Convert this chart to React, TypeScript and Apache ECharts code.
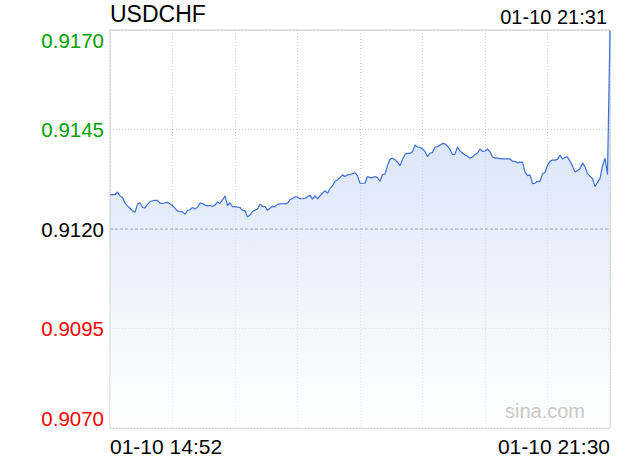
import React, { useEffect, useRef } from "react";
import * as echarts from "echarts";

const symbolName = "USDCHF";
const lastTime = "01-10 21:31";
const xStartLabel = "01-10 14:52";
const xEndLabel = "01-10 21:30";
const prevClose = 0.912;
const yMin = 0.907;
const yMax = 0.917;
const yStep = 0.0025;

// one price per equal time step, from 14:52 to 21:31
const prices: number[] = [
  0.91286, 0.91287, 0.91286, 0.91293, 0.91283, 0.91279, 0.91265, 0.91258, 0.91252, 0.91246,
  0.91242, 0.91262, 0.91266, 0.91254, 0.91253, 0.91262, 0.91269, 0.91271, 0.91272, 0.91272,
  0.91265, 0.91264, 0.91266, 0.91267, 0.91263, 0.91259, 0.91252, 0.91245, 0.91244, 0.91243,
  0.91237, 0.91246, 0.91249, 0.91254, 0.9125, 0.91255, 0.91265, 0.91264, 0.9126, 0.91258,
  0.91259, 0.91257, 0.9126, 0.91268, 0.91264, 0.91273, 0.91283, 0.91259, 0.91266, 0.91256,
  0.91256, 0.91255, 0.91254, 0.91247, 0.91246, 0.9123, 0.91235, 0.91244, 0.91247, 0.91251,
  0.91262, 0.91257, 0.91256, 0.91247, 0.91252, 0.91257, 0.91256, 0.91262, 0.91263, 0.91264,
  0.91263, 0.91265, 0.91274, 0.91276, 0.91281, 0.9128, 0.91276, 0.91276, 0.91277, 0.91281,
  0.91285, 0.91275, 0.91283, 0.91276, 0.91283, 0.9129, 0.91296, 0.9129, 0.91302, 0.91309,
  0.9132, 0.91323, 0.91329, 0.91336, 0.91332, 0.91336, 0.91337, 0.91339, 0.91341, 0.91334,
  0.91315, 0.91315, 0.91315, 0.91332, 0.91329, 0.91329, 0.91332, 0.91329, 0.9132, 0.91337,
  0.91338, 0.9136, 0.91375, 0.91378, 0.91374, 0.91368, 0.91359, 0.91375, 0.91388, 0.9139,
  0.9139, 0.91394, 0.91411, 0.91406, 0.91405, 0.91401, 0.91395, 0.91382, 0.91391, 0.91392,
  0.91406, 0.91406, 0.91411, 0.91415, 0.91414, 0.91408, 0.914, 0.91387, 0.91388, 0.91406,
  0.91396, 0.91391, 0.91386, 0.91383, 0.91378, 0.91381, 0.91387, 0.91391, 0.91401, 0.91395,
  0.91396, 0.91401, 0.91394, 0.91381, 0.91378, 0.91378, 0.91377, 0.91376, 0.91376, 0.91376,
  0.91376, 0.9137, 0.9137, 0.91366, 0.91368, 0.91368, 0.91343, 0.91334, 0.91336, 0.91314,
  0.91315, 0.9132, 0.91319, 0.91339, 0.91342, 0.9136, 0.9137, 0.91373, 0.91373, 0.91375,
  0.91386, 0.91376, 0.9138, 0.91381, 0.9137, 0.91358, 0.91343, 0.91347, 0.91352, 0.91366,
  0.91356, 0.91339, 0.91333, 0.91327, 0.91307, 0.91317, 0.91327, 0.91358, 0.91378, 0.91337,
  0.91699,
];

const FONT = "'Liberation Sans', Arial, Helvetica, sans-serif";

export default function App() {
  const ref = useRef<HTMLDivElement>(null);

  useEffect(() => {
    if (!ref.current) return;
    const chart = echarts.init(ref.current, undefined, { renderer: "svg" });
    const lastIndex = prices.length - 1;
    const near = (a: number, b: number) => Math.abs(a - b) < 1e-7;

    chart.setOption({
      animation: false,
      backgroundColor: "#ffffff",
      textStyle: { fontFamily: FONT },
      title: [
        {
          text: symbolName,
          left: 110,
          top: 2,
          padding: 0,
          textStyle: { fontSize: 23, fontWeight: "normal", color: "#000", fontFamily: FONT },
        },
        {
          text: lastTime,
          right: 13,
          top: 7,
          padding: 0,
          textStyle: { fontSize: 20, fontWeight: "normal", color: "#000", fontFamily: FONT },
        },
      ],
      graphic: [
        {
          type: "text",
          right: 35,
          top: 401,
          silent: true,
          z: 100,
          style: { text: "sina.com", fill: "#c8c8c8", font: `20px ${FONT}` },
        },
      ],
      grid: {
        left: 110,
        top: 30,
        right: 10,
        bottom: 32,
        show: true,
        borderColor: "#cccccc",
        borderWidth: 1,
        backgroundColor: "transparent",
      },
      xAxis: [
        {
          type: "value",
          min: 0,
          max: lastIndex,
          interval: lastIndex / 8,
          axisLine: { show: false },
          axisTick: { show: false },
          splitLine: { show: true, lineStyle: { color: "#cccccc", type: [1, 2], width: 1 } },
          axisLabel: {
            margin: 8,
            align: "left",
            fontSize: 21,
            color: "#000",
            fontFamily: FONT,
            formatter: (v: number) => (near(v, 0) ? xStartLabel : ""),
          },
        },
        {
          type: "value",
          position: "bottom",
          min: 0,
          max: lastIndex,
          interval: lastIndex / 8,
          axisLine: { show: false },
          axisTick: { show: false },
          splitLine: { show: false },
          axisLabel: {
            margin: 8,
            align: "right",
            fontSize: 21,
            color: "#000",
            fontFamily: FONT,
            formatter: (v: number) => (near(v, lastIndex) ? xEndLabel : ""),
          },
        },
      ],
      yAxis: {
        type: "value",
        min: yMin,
        max: yMax,
        interval: yStep,
        axisLine: { show: false },
        axisTick: { show: false },
        splitLine: { show: true, lineStyle: { color: "#cccccc", type: [1, 2], width: 1 } },
        axisLabel: {
          margin: 6,
          fontSize: 20.5,
          lineHeight: 20,
          fontFamily: FONT,
          color: (v: any) => {
            const n = Number(v);
            if (n > prevClose + 1e-7) return "#00a000";
            if (n < prevClose - 1e-7) return "#ff0000";
            return "#000000";
          },
          formatter: (v: number) => {
            const s = Number(v).toFixed(4);
            if (near(v, yMax)) return "\n" + s;
            if (near(v, yMin)) return s + "\n";
            return s;
          },
        },
      },
      series: [
        {
          name: symbolName,
          type: "line",
          xAxisIndex: 0,
          data: prices.map((p, i) => [i, p]),
          showSymbol: false,
          symbol: "none",
          smooth: false,
          z: 2,
          lineStyle: { color: "#3c70d8", width: 1.2 },
          areaStyle: {
            origin: "start",
            color: new echarts.graphic.LinearGradient(0, 0, 0, 1, [
              { offset: 0, color: "#aec6f2" },
              { offset: 1, color: "#ffffff" },
            ]),
            opacity: 0.6,
          },
        },
        {
          name: "prev",
          type: "line",
          xAxisIndex: 0,
          data: [
            [0, prevClose],
            [lastIndex, prevClose],
          ],
          showSymbol: false,
          symbol: "none",
          silent: true,
          z: 5,
          lineStyle: { color: "#a4a8bc", type: [3, 2], width: 1 },
        },
      ],
    });

    return () => chart.dispose();
  }, []);

  return (
    <div
      ref={ref}
      style={{ position: "absolute", left: 0, top: 0, width: 620, height: 460 }}
    />
  );
}
